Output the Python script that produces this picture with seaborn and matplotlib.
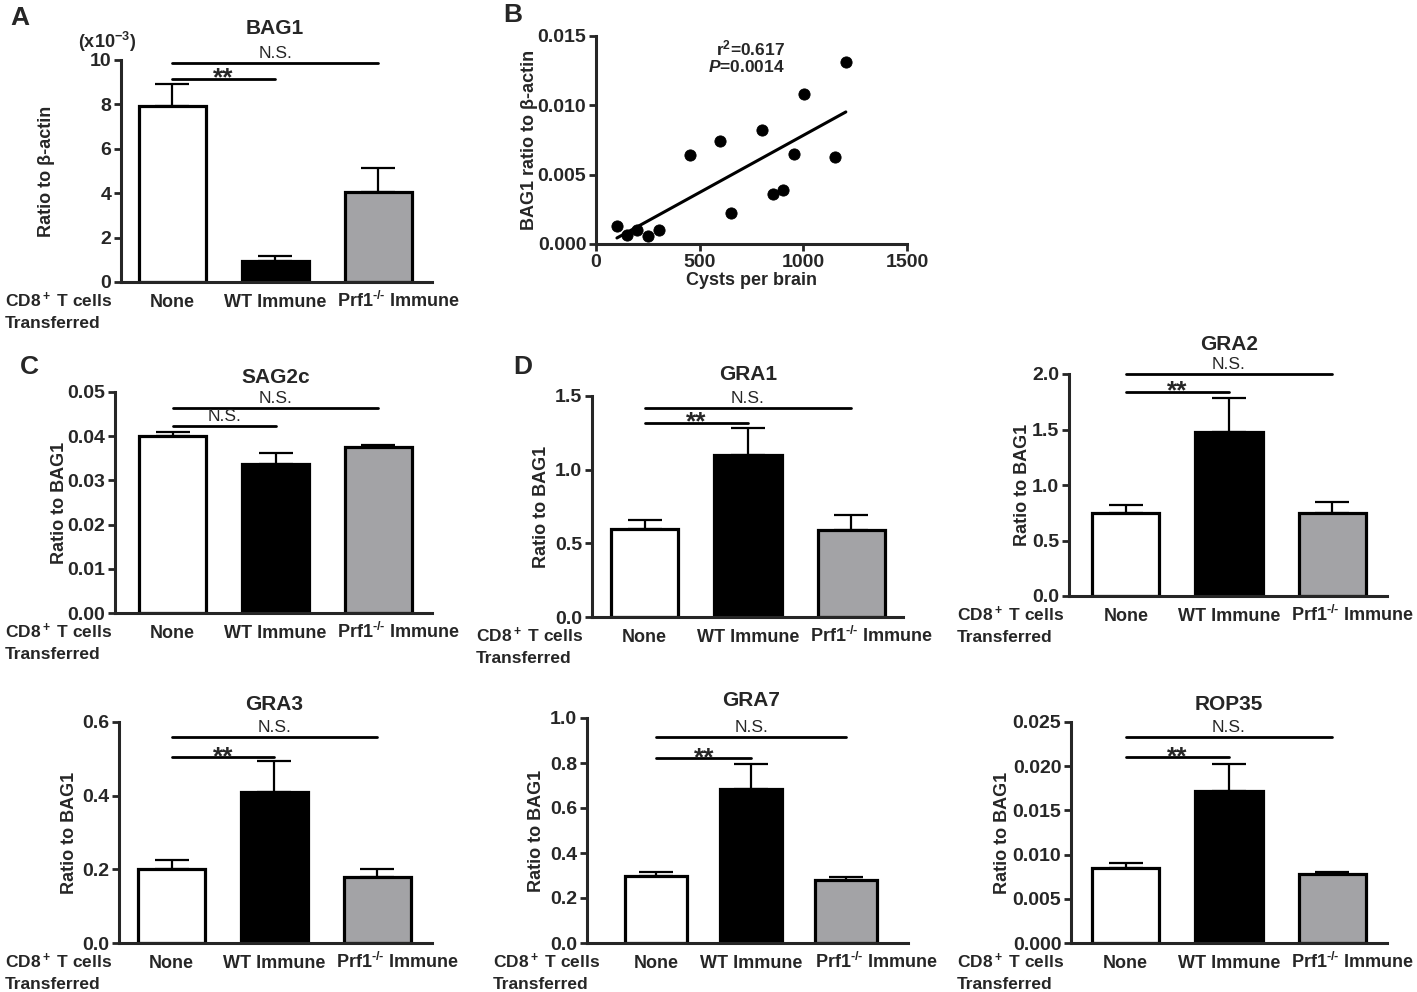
import numpy as np
import pandas as pd
import matplotlib
matplotlib.use('Agg')
import matplotlib.pyplot as plt
import seaborn as sns
from matplotlib.ticker import FormatStrFormatter

# --- style ---
sns.set_style("ticks")
plt.rcParams['font.family'] = ['Liberation Sans', 'DejaVu Sans']
plt.rcParams['font.weight'] = 'bold'
plt.rcParams['axes.labelweight'] = 'bold'
plt.rcParams['mathtext.fontset'] = 'custom'
plt.rcParams['mathtext.rm'] = 'Liberation Sans:bold'
plt.rcParams['mathtext.bf'] = 'Liberation Sans:bold'
plt.rcParams['mathtext.it'] = 'Liberation Sans:italic'

# --- data ---
groups = ['None', 'WT Immune', 'Prf1$^{\\text{-/-}}$ Immune']
bar_colors = ['white', 'black', '#a3a3a6']

bag1_mean = [7.95, 0.95, 4.05]      # x10^-3, ratio to beta-actin
bag1_sem = [0.95, 0.20, 1.10]
sag2c_mean = [0.0400, 0.0337, 0.0375]
sag2c_sem = [0.0009, 0.0025, 0.0006]
gra1_mean = [0.60, 1.10, 0.59]
gra1_sem = [0.06, 0.18, 0.10]
gra2_mean = [0.75, 1.48, 0.75]
gra2_sem = [0.07, 0.30, 0.10]
gra3_mean = [0.20, 0.41, 0.18]
gra3_sem = [0.025, 0.085, 0.022]
gra7_mean = [0.30, 0.685, 0.28]
gra7_sem = [0.015, 0.11, 0.012]
rop35_mean = [0.0085, 0.0172, 0.0078]
rop35_sem = [0.0006, 0.0031, 0.0002]

# panel B: cysts per brain vs BAG1 ratio
cysts = [101, 149, 200, 250, 303, 452, 600, 651, 803, 853, 904, 954, 1003, 1154, 1205]
bag1_ratio = [0.00127, 0.00065, 0.00103, 0.00055, 0.00103, 0.0064, 0.0074, 0.0022,
              0.0082, 0.0036, 0.0039, 0.0065, 0.0108, 0.0063, 0.0131]

W, H = 1417, 992
fig = plt.figure(figsize=(W / 100, H / 100), dpi=100)


def px_axes(l, t, r, b):
    return fig.add_axes([l / W, 1 - b / H, (r - l) / W, (b - t) / H])


def style_axes(ax):
    sns.despine(ax=ax)
    for s in ['left', 'bottom']:
        ax.spines[s].set_linewidth(2.2)
    ax.tick_params(axis='y', width=2, length=5, pad=2, labelsize=14)
    ax.tick_params(axis='x', width=2, length=0, pad=7, labelsize=13)


def set_ylabel_px(ax, rect, text, label_x):
    # label_x is the centre of the rotated label, in figure pixels
    ax.set_ylabel(text, fontsize=13, fontweight='bold')
    ax.yaxis.set_label_coords((label_x + 8 - rect[0]) / (rect[2] - rect[0]), 0.5)


def bar_panel(rect, xlim, title, title_y, means, sems, yticks, fmt, label_x, sig, inner_label,
              cd8_x, ylabel='Ratio to BAG1', prf_shift=-41):
    ax = px_axes(*rect)
    df = pd.DataFrame({'group': groups, 'value': means})
    sns.barplot(data=df, x='group', y='value', hue='group', order=groups, hue_order=groups,
                palette=bar_colors, saturation=1, legend=False, edgecolor='black',
                linewidth=2.3, width=0.65, errorbar=None, ax=ax)
    ax.errorbar(range(3), means, yerr=[np.zeros(3), sems], fmt='none', ecolor='black',
                elinewidth=1.6, capsize=12, capthick=1.6, zorder=0.5)
    ax.set_xlim(*xlim)
    ax.set_ylim(0, yticks[-1])
    ax.set_yticks(yticks)
    ax.yaxis.set_major_formatter(FormatStrFormatter(fmt))
    ax.set_xlabel('')
    style_axes(ax)
    set_ylabel_px(ax, rect, ylabel, label_x)
    # category labels drawn on a common baseline
    ax.set_xticklabels([])
    for i, g in enumerate(groups):
        if i == 2:
            ax.annotate(g, xy=(i, 0), xycoords=('data', 'axes fraction'), xytext=(prf_shift, -25),
                        textcoords='offset pixels', ha='left', va='baseline', fontsize=13)
        else:
            ax.annotate(g, xy=(i, 0), xycoords=('data', 'axes fraction'), xytext=(0, -25),
                        textcoords='offset pixels', ha='center', va='baseline', fontsize=13)
    # significance bars
    y_in, y_out = sig
    ax.plot([0, 1], [y_in, y_in], color='black', lw=2, clip_on=False)
    ax.plot([0, 2], [y_out, y_out], color='black', lw=2, clip_on=False)
    if inner_label == '**':
        ax.annotate('**', xy=(0.5, y_in), xytext=(0, -7), textcoords='offset pixels',
                    ha='center', va='baseline', fontsize=19, fontweight='bold')
    else:
        ax.annotate(inner_label, xy=(0.5, y_in), xytext=(0, 2), textcoords='offset pixels',
                    ha='center', va='bottom', fontsize=12.5, fontweight='normal')
    ax.annotate('N.S.', xy=(1, y_out), xytext=(0, 2), textcoords='offset pixels',
                ha='center', va='bottom', fontsize=12.5, fontweight='normal')
    # title centred over the middle bar
    cx = ax.transData.transform((1, 0))[0]
    fig.text(cx / W, 1 - title_y / H, title, ha='center', va='center', fontsize=15, fontweight='bold')
    # row label
    base = rect[3]
    fig.text(cd8_x / W, 1 - (base + 25) / H, 'CD8$^+$ T cells', ha='left', va='baseline', fontsize=12.5)
    fig.text(cd8_x / W, 1 - (base + 46) / H, 'Transferred', ha='left', va='baseline', fontsize=12.5)
    return ax


# --- A: BAG1 ---
bar_panel((121, 60, 432, 282), (-0.495, 2.52), 'BAG1', 28, bag1_mean, bag1_sem,
          [0, 2, 4, 6, 8, 10], '%d', 47, (9.16, 9.86), '**', 5, ylabel='Ratio to β-actin')
fig.text(78 / W, 1 - 42 / H, '(x10$^{-3}$)', ha='left', va='center', fontsize=13)

# --- B: scatter ---
rect_b = (596, 36, 907, 244)
axb = px_axes(*rect_b)
sns.scatterplot(x=cysts, y=bag1_ratio, color='black', s=65, edgecolor='black', ax=axb, zorder=3)
sns.regplot(x=np.array(cysts), y=np.array(bag1_ratio), scatter=False, ci=None,
            line_kws={'color': 'black', 'lw': 2.2}, ax=axb)
axb.set_xlim(0, 1500)
axb.set_ylim(0, 0.015)
axb.set_xticks([0, 500, 1000, 1500])
axb.set_yticks([0, 0.005, 0.010, 0.015])
axb.yaxis.set_major_formatter(FormatStrFormatter('%.3f'))
axb.set_xlabel('Cysts per brain', fontsize=13, fontweight='bold', labelpad=1)
style_axes(axb)
axb.tick_params(axis='x', length=5, pad=2, labelsize=14)
set_ylabel_px(axb, rect_b, 'BAG1 ratio to β-actin', 530)
fig.text(785 / W, 1 - 48 / H, 'r$^2$=0.617', ha='right', va='center', fontsize=12.5)
fig.text(785 / W, 1 - 67 / H, '$\\mathit{P}$=0.0014', ha='right', va='center', fontsize=12.5)

# --- C: SAG2c ---
bar_panel((115, 392, 432, 613), (-0.56, 2.52), 'SAG2c', 377, sag2c_mean, sag2c_sem,
          [0, 0.01, 0.02, 0.03, 0.04, 0.05], '%.2f', 60, (0.0423, 0.0464), 'N.S.', 5)

# --- D: GRA panels ---
bar_panel((592, 396, 903, 617), (-0.51, 2.5), 'GRA1', 375, gra1_mean, gra1_sem,
          [0, 0.5, 1.0, 1.5], '%.1f', 542, (1.32, 1.42), '**', 476)
bar_panel((1069, 374, 1387, 596), (-0.55, 2.53), 'GRA2', 345, gra2_mean, gra2_sem,
          [0, 0.5, 1.0, 1.5, 2.0], '%.1f', 1023, (1.84, 2.0), '**', 957)
bar_panel((119, 722, 432, 943), (-0.51, 2.53), 'GRA3', 704, gra3_mean, gra3_sem,
          [0, 0.2, 0.4, 0.6], '%.1f', 70, (0.505, 0.559), '**', 5)
bar_panel((587, 718, 908, 943), (-0.73, 2.65), 'GRA7', 700, gra7_mean, gra7_sem,
          [0, 0.2, 0.4, 0.6, 0.8, 1.0], '%.1f', 537, (0.822, 0.916), '**', 493, prf_shift=-31)
bar_panel((1071, 722, 1387, 943), (-0.53, 2.53), 'ROP35', 704, rop35_mean, rop35_sem,
          [0, 0.005, 0.010, 0.015, 0.020, 0.025], '%.3f', 1003, (0.021, 0.0233), '**', 957)

# panel letters
for letter, x, y in [('A', 10, 18), ('B', 503, 15), ('C', 20, 367), ('D', 513, 367)]:
    fig.text(x / W, 1 - y / H, letter, ha='left', va='center', fontsize=19, fontweight='bold')

fig.savefig('out.png', dpi=100)
